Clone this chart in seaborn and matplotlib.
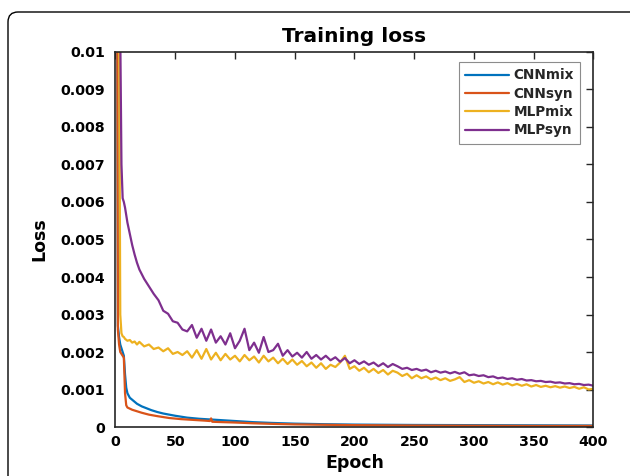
import matplotlib
matplotlib.use("Agg")
import numpy as np
import pandas as pd
import matplotlib.pyplot as plt
import seaborn as sns
from matplotlib.patches import FancyBboxPatch
from matplotlib.transforms import IdentityTransform

# ---------------- data (loss values in units of 1e-3) ----------------
series_names = ["CNNmix", "CNNsyn", "MLPmix", "MLPsyn"]
series_colors = ["#0072BD", "#D95319", "#EDB120", "#7E2F8E"]

cnnmix_epoch = [1, 2, 3, 4, 5, 6, 7, 8, 9, 10, 12, 15, 18, 22, 26, 30, 35, 40, 50, 60, 70, 80,
                90, 100, 115, 130, 150, 175, 200, 250, 300, 350, 400]
cnnmix_loss = [20, 2.7, 2.4, 2.2, 2.1, 2.0, 1.9, 1.4, 1.05, 0.9, 0.78, 0.7, 0.62, 0.55, 0.5, 0.45,
               0.4, 0.36, 0.3, 0.25, 0.22, 0.2, 0.18, 0.16, 0.13, 0.11, 0.09, 0.075, 0.065, 0.055,
               0.05, 0.045, 0.04]

cnnsyn_epoch = [1, 2, 3, 4, 5, 6, 7, 8, 9, 10, 14, 18, 22, 28, 35, 45, 55, 65, 75, 79, 80, 81,
                90, 100, 115, 130, 150, 175, 200, 250, 300, 350, 400]
cnnsyn_loss = [20, 2.6, 2.2, 2.0, 1.95, 1.9, 1.85, 0.9, 0.58, 0.52, 0.46, 0.42, 0.38, 0.33, 0.29,
               0.24, 0.21, 0.19, 0.17, 0.16, 0.23, 0.14, 0.13, 0.12, 0.1, 0.085, 0.07, 0.06, 0.05,
               0.04, 0.035, 0.03, 0.03]

mlp_early_epoch = [1, 2, 3, 4, 5, 6, 7, 8, 10, 12, 14, 16, 18]
mlp_late_epoch = list(range(20, 401, 4))

mlpmix_early = [20, 15, 11, 3.0, 2.5, 2.42, 2.4, 2.35, 2.3, 2.32, 2.25, 2.28, 2.2]
mlpmix_late = [2.27, 2.15, 2.2, 2.08, 2.12, 2.02, 2.1, 1.95, 2.0, 1.92,
               2.02, 1.85, 2.05, 1.82, 2.08, 1.8, 1.98, 1.78, 1.95, 1.8,
               1.9, 1.75, 1.92, 1.78, 1.88, 1.72, 1.9, 1.75, 1.85, 1.7,
               1.82, 1.68, 1.8, 1.66, 1.76, 1.62, 1.72, 1.58, 1.7, 1.55,
               1.66, 1.6, 1.72, 1.9, 1.55, 1.62, 1.5, 1.58, 1.46, 1.55,
               1.44, 1.52, 1.4, 1.5, 1.45, 1.36, 1.42, 1.3, 1.38, 1.3,
               1.35, 1.27, 1.32, 1.25, 1.3, 1.23, 1.27, 1.33, 1.2, 1.25,
               1.18, 1.22, 1.16, 1.2, 1.14, 1.19, 1.13, 1.17, 1.11, 1.15,
               1.1, 1.14, 1.08, 1.12, 1.07, 1.1, 1.06, 1.09, 1.05, 1.08,
               1.04, 1.07, 1.02, 1.06, 1.0, 1.02]

mlpsyn_early = [20, 16, 13, 10.5, 7.0, 6.1, 6.0, 5.85, 5.45, 5.15, 4.85, 4.6, 4.38]
mlpsyn_late = [4.2, 3.95, 3.75, 3.55, 3.38, 3.1, 3.02, 2.82, 2.78, 2.6,
               2.55, 2.72, 2.38, 2.62, 2.3, 2.6, 2.25, 2.42, 2.2, 2.5,
               2.1, 2.3, 2.62, 2.05, 2.25, 1.98, 2.4, 2.0, 2.05, 2.22,
               1.9, 2.05, 1.88, 1.98, 1.85, 2.0, 1.82, 1.92, 1.8, 1.9,
               1.78, 1.86, 1.74, 1.84, 1.7, 1.78, 1.68, 1.75, 1.66, 1.72,
               1.62, 1.7, 1.6, 1.68, 1.62, 1.55, 1.58, 1.52, 1.55, 1.5,
               1.53, 1.46, 1.5, 1.45, 1.48, 1.43, 1.47, 1.42, 1.46, 1.38,
               1.4, 1.36, 1.38, 1.33, 1.35, 1.3, 1.32, 1.28, 1.3, 1.26,
               1.28, 1.24, 1.25, 1.22, 1.23, 1.2, 1.21, 1.18, 1.19, 1.16,
               1.17, 1.14, 1.15, 1.12, 1.13, 1.1]

x_ticks = [0, 50, 100, 150, 200, 250, 300, 350, 400]
y_ticks = [0, 0.001, 0.002, 0.003, 0.004, 0.005, 0.006, 0.007, 0.008, 0.009, 0.01]
y_tick_labels = ["0", "0.001", "0.002", "0.003", "0.004", "0.005", "0.006", "0.007",
                 "0.008", "0.009", "0.01"]

# ---------------- build long table ----------------
frames = []
def add(name, ep, loss):
    frames.append(pd.DataFrame({"Epoch": ep, "Loss": np.asarray(loss) * 1e-3, "Model": name}))

add("CNNmix", cnnmix_epoch, cnnmix_loss)
add("CNNsyn", cnnsyn_epoch, cnnsyn_loss)
add("MLPmix", mlp_early_epoch + mlp_late_epoch, mlpmix_early + mlpmix_late)
add("MLPsyn", mlp_early_epoch + mlp_late_epoch, mlpsyn_early + mlpsyn_late)
df = pd.concat(frames, ignore_index=True)

# ---------------- plot ----------------
sns.set_theme(style="white")
plt.rcParams["font.family"] = ["DejaVu Sans"]
plt.rcParams["font.weight"] = "bold"

fig = plt.figure(figsize=(6.3, 4.76), dpi=100)
ax = fig.add_axes([0.1833, 0.1029, 0.7587, 0.7879])

sns.lineplot(data=df, x="Epoch", y="Loss", hue="Model", hue_order=series_names,
             palette=dict(zip(series_names, series_colors)), estimator=None, sort=False,
             linewidth=1.6, ax=ax)

ax.set_xlim(0, 400)
ax.set_ylim(0, 0.01)
ax.set_xticks(x_ticks)
ax.set_xticklabels([str(t) for t in x_ticks])
ax.set_yticks(y_ticks)
ax.set_yticklabels(y_tick_labels)
ax.tick_params(direction="in", top=True, right=True, length=5, width=1.0,
               color="#262626", labelsize=10.2, labelcolor="black")
ax.tick_params(axis="y", pad=7.5)
ax.tick_params(axis="x", pad=6)
for lab in ax.get_xticklabels() + ax.get_yticklabels():
    lab.set_fontweight("bold")
for sp in ax.spines.values():
    sp.set_color("#262626")
    sp.set_linewidth(1.2)

ax.set_title("Training loss", fontsize=14.5, fontweight="bold", pad=7, color="black")
ax.set_xlabel("Epoch", fontsize=12.5, fontweight="bold", labelpad=3, color="black")
ax.set_ylabel("Loss", fontsize=12.5, fontweight="bold", labelpad=9, color="black")

leg = ax.legend(loc="upper right", bbox_to_anchor=(0.972, 0.9725), borderaxespad=0,
                frameon=True, fancybox=False, edgecolor="#8c8c8c", framealpha=1,
                fontsize=9.8, handlelength=3.2, handletextpad=0.35, borderpad=0.45,
                labelspacing=0.32)
leg.get_frame().set_linewidth(0.8)
for t in leg.get_texts():
    t.set_fontweight("bold")

frame = FancyBboxPatch((8, -30), 700, 476 - 12 + 30,
                       boxstyle="round,pad=0,rounding_size=10",
                       transform=IdentityTransform(), fill=False,
                       edgecolor="black", linewidth=1.0)
fig.add_artist(frame)

fig.savefig("out.png", dpi=100)
